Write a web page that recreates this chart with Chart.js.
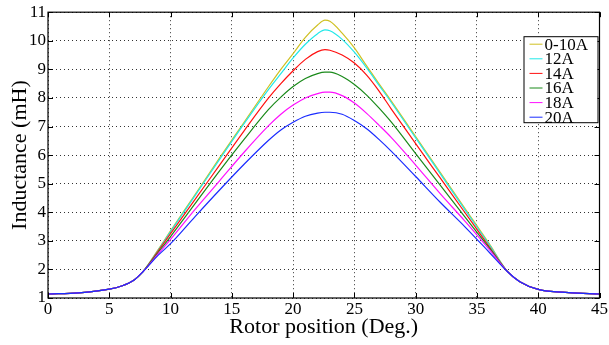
<!DOCTYPE html>
<html>
<head>
<meta charset="utf-8">
<script src="https://cdn.jsdelivr.net/npm/chart.js@4.4.1/dist/chart.umd.min.js"></script>
<style>
  html, body { margin: 0; padding: 0; background: #fff; }
  canvas { display: block; }
</style>
</head>
<body>
<canvas id="chart" width="609" height="345"></canvas>
<script>
// rotor position (deg), shared by all curves
const positions = [0, 2.5, 5, 6, 7, 7.75, 9, 10, 12, 14, 16, 18, 19, 20, 21, 22, 22.6, 23, 24, 25, 26, 27, 28, 30, 32, 34, 36, 37.5, 38.5, 40, 42.5, 45];

// inductance (mH) per current level
const ind0to10 = [1.14, 1.18, 1.31, 1.42, 1.62, 1.92, 2.70, 3.35, 4.62, 5.90, 7.15, 8.40, 9.00, 9.55, 10.12, 10.55, 10.72, 10.68, 10.27, 9.75, 9.12, 8.50, 7.90, 6.65, 5.40, 4.15, 2.90, 1.92, 1.57, 1.30, 1.19, 1.14];
const ind12 = [1.14, 1.18, 1.31, 1.42, 1.62, 1.92, 2.68, 3.32, 4.58, 5.85, 7.10, 8.30, 8.85, 9.40, 9.88, 10.25, 10.38, 10.35, 10.05, 9.60, 9.05, 8.45, 7.85, 6.60, 5.35, 4.10, 2.87, 1.92, 1.57, 1.30, 1.19, 1.14];
const ind14 = [1.14, 1.18, 1.31, 1.42, 1.62, 1.92, 2.65, 3.25, 4.45, 5.65, 6.85, 8.00, 8.50, 8.95, 9.35, 9.62, 9.69, 9.67, 9.50, 9.22, 8.80, 8.25, 7.62, 6.40, 5.20, 4.00, 2.80, 1.92, 1.57, 1.30, 1.19, 1.14];
const ind16 = [1.14, 1.18, 1.31, 1.42, 1.62, 1.92, 2.60, 3.15, 4.30, 5.45, 6.55, 7.60, 8.03, 8.40, 8.68, 8.85, 8.90, 8.90, 8.75, 8.47, 8.10, 7.65, 7.16, 6.05, 4.95, 3.85, 2.75, 1.92, 1.57, 1.30, 1.19, 1.14];
const ind18 = [1.14, 1.18, 1.31, 1.42, 1.62, 1.92, 2.55, 3.05, 4.10, 5.10, 6.10, 7.03, 7.43, 7.75, 8.00, 8.15, 8.20, 8.20, 8.08, 7.82, 7.46, 7.05, 6.62, 5.65, 4.65, 3.70, 2.70, 1.92, 1.57, 1.30, 1.19, 1.14];
const ind20 = [1.14, 1.18, 1.31, 1.42, 1.62, 1.92, 2.50, 2.90, 3.85, 4.78, 5.68, 6.52, 6.88, 7.15, 7.36, 7.47, 7.50, 7.50, 7.43, 7.21, 6.92, 6.55, 6.14, 5.25, 4.35, 3.50, 2.60, 1.92, 1.57, 1.30, 1.19, 1.14];

const seriesLabels = ['0-10A', '12A', '14A', '16A', '18A', '20A'];
const seriesValues = [ind0to10, ind12, ind14, ind16, ind18, ind20];
const seriesColors = ['#cfc022', '#22e8e8', '#ff1010', '#1a8a1a', '#ff10ff', '#1a2cff'];

const xTicks = [0, 5, 10, 15, 20, 25, 30, 35, 40, 45];
const yTicks = [1, 2, 3, 4, 5, 6, 7, 8, 9, 10, 11];

const serif = "'Liberation Serif', 'Times New Roman', serif";

// box, inward ticks and the legend, matlab style
const framePlugin = {
    id: 'frame',
    afterDraw(chart) {
        const ctx = chart.ctx;
        const a = chart.chartArea;
        const xs = chart.scales.x;
        const ys = chart.scales.y;
        ctx.save();
        ctx.strokeStyle = '#000';
        ctx.lineWidth = 1;
        ctx.beginPath();
        xTicks.forEach(v => {
            const px = Math.round(xs.getPixelForValue(v)) + 0.5;
            ctx.moveTo(px, a.bottom); ctx.lineTo(px, a.bottom - 5);
            ctx.moveTo(px, a.top); ctx.lineTo(px, a.top + 5);
        });
        yTicks.forEach(v => {
            const py = Math.round(ys.getPixelForValue(v)) + 0.5;
            ctx.moveTo(a.left, py); ctx.lineTo(a.left + 5, py);
            ctx.moveTo(a.right, py); ctx.lineTo(a.right - 5, py);
        });
        ctx.stroke();
        ctx.lineWidth = 1.2;
        ctx.strokeRect(a.left, a.top, a.right - a.left, a.bottom - a.top);

        // legend
        const bx = a.right - 76, by = a.top + 24, bw = 74, bh = 86;
        ctx.fillStyle = '#fff';
        ctx.fillRect(bx, by, bw, bh);
        ctx.lineWidth = 1;
        ctx.strokeRect(bx + 0.5, by + 0.5, bw, bh);
        ctx.font = '17px ' + serif;
        ctx.textBaseline = 'middle';
        ctx.textAlign = 'left';
        seriesLabels.forEach((lab, i) => {
            const y = by + 8 + i * 14.6;
            ctx.strokeStyle = seriesColors[i];
            ctx.beginPath();
            ctx.moveTo(bx + 6, y); ctx.lineTo(bx + 19, y);
            ctx.stroke();
            ctx.fillStyle = '#000';
            ctx.fillText(lab, bx + 21, y + 1);
        });
        ctx.restore();
    }
};

const datasets = seriesLabels.map((lab, i) => ({
    label: lab,
    data: positions.map((p, j) => ({ x: p, y: seriesValues[i][j] })),
    borderColor: seriesColors[i],
    backgroundColor: seriesColors[i],
    borderWidth: 1.2,
    pointRadius: 0,
    cubicInterpolationMode: 'monotone',
    order: seriesLabels.length - i
}));

const gridStyle = {
    color: 'rgba(0,0,0,0.8)',
    lineWidth: 1,
    drawTicks: false
};

new Chart(document.getElementById('chart'), {
    type: 'line',
    data: { datasets: datasets },
    options: {
        responsive: false,
        animation: false,
        layout: { padding: { top: 12, right: 7, left: 0, bottom: 0 } },
        plugins: {
            legend: { display: false },
            tooltip: { enabled: false }
        },
        scales: {
            x: {
                type: 'linear',
                min: 0,
                max: 45,
                afterFit: s => { s.height = 47; },
                afterBuildTicks: s => { s.ticks = xTicks.map(v => ({ value: v })); },
                grid: gridStyle,
                border: { display: false, dash: [1, 3] },
                ticks: { color: '#000', padding: 1, maxRotation: 0, font: { family: serif, size: 17 } },
                title: { display: true, text: 'Rotor position (Deg.)', color: '#000', padding: { top: 0, bottom: 5 }, font: { family: serif, size: 22 } }
            },
            y: {
                min: 1,
                max: 11,
                afterFit: s => { s.width = 48; },
                afterBuildTicks: s => { s.ticks = yTicks.map(v => ({ value: v })); },
                grid: gridStyle,
                border: { display: false, dash: [1, 3] },
                ticks: { color: '#000', padding: 2, font: { family: serif, size: 17 } },
                title: { display: true, text: 'Inductance (mH)', color: '#000', padding: { top: 7, bottom: 0 }, font: { family: serif, size: 22 } }
            }
        }
    },
    plugins: [framePlugin]
});
</script>
</body>
</html>
